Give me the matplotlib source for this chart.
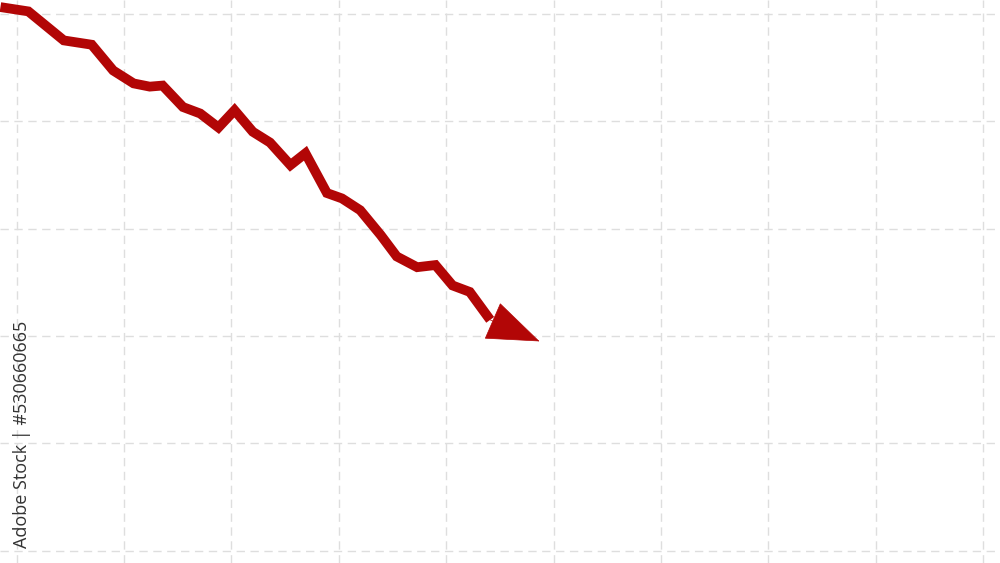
import matplotlib
matplotlib.use("Agg")
import matplotlib.pyplot as plt

# Data (grid units: one grid cell = 1)
x_vals = [-0.15, 0.11, 0.44, 0.70, 0.90, 1.09, 1.24, 1.36, 1.55, 1.71, 1.88, 2.03,
          2.20, 2.36, 2.55, 2.69, 2.89, 3.03, 3.20, 3.39, 3.54, 3.73, 3.90, 4.06,
          4.22, 4.41]
y_vals = [5.06, 5.02, 4.75, 4.71, 4.47, 4.35, 4.32, 4.33, 4.13, 4.07, 3.94, 4.10,
          3.90, 3.80, 3.59, 3.70, 3.33, 3.28, 3.17, 2.94, 2.74, 2.64, 2.66, 2.47,
          2.41, 2.15]
arrow_tip = (4.87, 1.95)
grid_x = list(range(0, 10))
grid_y = list(range(0, 6))
watermark = "Adobe Stock | #530660665"

line_color = "#b20606"

fig = plt.figure(figsize=(10, 5.63), dpi=100)
ax = fig.add_axes([0, 0, 1, 1])
ax.set_xlim(-0.154, 9.157)
ax.set_ylim(-0.112, 5.126)
ax.axis("off")

# dashed grid
for gx in grid_x:
    ax.axvline(gx, color="#dedede", lw=1.0, ls=(0, (6, 4)), zorder=0)
for gy in grid_y:
    ax.axhline(gy, color="#dedede", lw=1.0, ls=(0, (6, 4)), zorder=0)

# falling line
ax.plot(x_vals, y_vals, color=line_color, lw=7, solid_joinstyle="miter",
        solid_capstyle="butt", zorder=2)

# arrow head
ax.annotate("", xy=arrow_tip, xytext=(x_vals[-1], y_vals[-1]),
            arrowprops=dict(arrowstyle="-|>,head_length=1.2,head_width=0.45",
                            mutation_scale=30, color=line_color, lw=0.5,
                            shrinkA=0, shrinkB=0),
            zorder=3)

# stock id text on the left edge
fig.text(0.022, 0.229, watermark, rotation=90, ha="center", va="center",
         fontsize=13, color="#333333", family="Open Sans", fontweight="medium")

fig.savefig("out.png", dpi=100)
